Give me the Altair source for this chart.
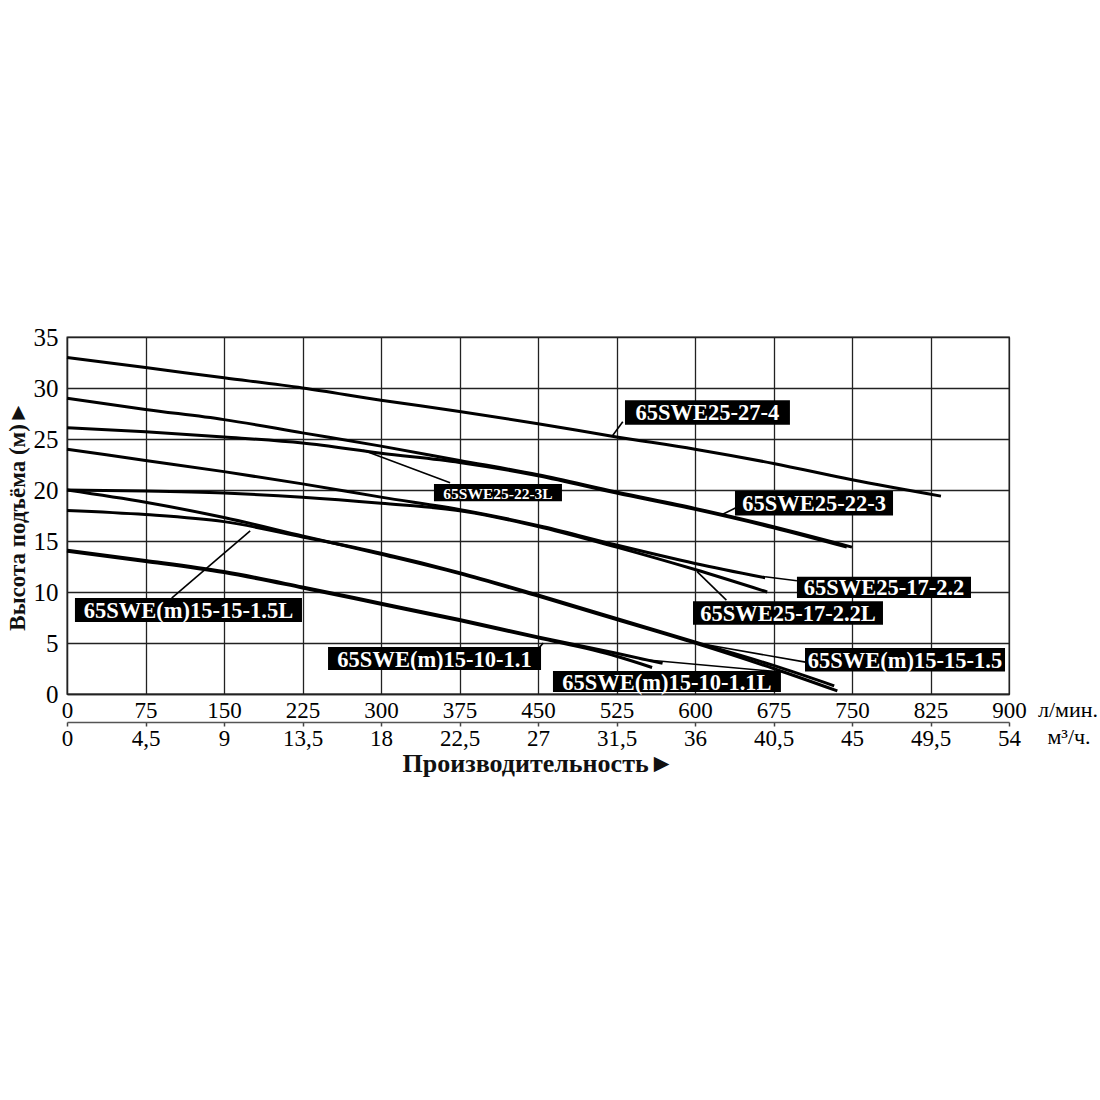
import altair as alt
import pandas as pd

# Pump performance curves: flow (l/min) vs head (m)
pump_names = [
    "65SWE25-27-4",
    "65SWE25-22-3",
    "65SWE25-22-3L",
    "65SWE25-17-2.2",
    "65SWE25-17-2.2L",
    "65SWE(m)15-15-1.5",
    "65SWE(m)15-15-1.5L",
    "65SWE(m)15-10-1.1",
    "65SWE(m)15-10-1.1L",
]

flow_27_4 = [0, 75, 150, 225, 300, 375, 450, 525, 600, 675, 750, 835]
head_27_4 = [33.0, 32.0, 31.0, 30.0, 28.8, 27.7, 26.5, 25.2, 24.0, 22.6, 21.0, 19.4]

flow_22_3 = [0, 75, 150, 225, 300, 375, 450, 525, 600, 675, 750]
head_22_3 = [29.0, 27.9, 26.9, 25.6, 24.3, 22.9, 21.5, 19.8, 18.2, 16.4, 14.4]

flow_22_3L = [0, 75, 150, 225, 300, 375, 450, 525, 600, 675, 745]
head_22_3L = [26.1, 25.7, 25.2, 24.6, 23.6, 22.7, 21.4, 19.7, 18.1, 16.3, 14.4]

flow_17_22 = [0, 75, 150, 225, 300, 380, 455, 525, 600, 667]
head_17_22 = [24.0, 22.9, 21.8, 20.6, 19.3, 18.0, 16.4, 14.6, 12.8, 11.4]

flow_17_22L = [0, 75, 150, 225, 300, 380, 455, 525, 600, 669]
head_17_22L = [20.0, 19.9, 19.7, 19.3, 18.7, 17.9, 16.3, 14.4, 12.2, 10.0]

flow_15_15 = [0, 75, 150, 225, 300, 375, 450, 525, 600, 675, 736]
head_15_15 = [20.0, 18.8, 17.3, 15.5, 13.7, 11.8, 9.6, 7.3, 5.0, 2.5, 0.3]

flow_15_15L = [0, 75, 150, 225, 300, 375, 450, 525, 600, 675, 733]
head_15_15L = [18.0, 17.6, 16.9, 15.4, 13.8, 11.9, 9.7, 7.4, 5.1, 2.8, 0.8]

flow_10_11 = [0, 75, 150, 225, 300, 375, 450, 525, 569]
head_10_11 = [14.1, 13.1, 12.0, 10.5, 8.9, 7.3, 5.6, 4.0, 3.0]

flow_10_11L = [0, 75, 150, 225, 300, 375, 450, 525, 559]
head_10_11L = [14.0, 13.0, 11.9, 10.4, 8.8, 7.2, 5.5, 3.7, 2.6]

series = [
    (pump_names[0], flow_27_4, head_27_4),
    (pump_names[1], flow_22_3, head_22_3),
    (pump_names[2], flow_22_3L, head_22_3L),
    (pump_names[3], flow_17_22, head_17_22),
    (pump_names[4], flow_17_22L, head_17_22L),
    (pump_names[5], flow_15_15, head_15_15),
    (pump_names[6], flow_15_15L, head_15_15L),
    (pump_names[7], flow_10_11, head_10_11),
    (pump_names[8], flow_10_11L, head_10_11L),
]

# Axis ticks
flow_ticks = [0, 75, 150, 225, 300, 375, 450, 525, 600, 675, 750, 825, 900]
m3h_labels = ["0", "4,5", "9", "13,5", "18", "22,5", "27", "31,5", "36",
              "40,5", "45", "49,5", "54"]
head_ticks = [0, 5, 10, 15, 20, 25, 30, 35]

# Label boxes (data units) and leader lines for each curve name
label_text = ["65SWE25-27-4", "65SWE25-22-3", "65SWE25-22-3L", "65SWE25-17-2.2",
              "65SWE25-17-2.2L", "65SWE(m)15-15-1.5", "65SWE(m)15-10-1.1L",
              "65SWE(m)15-10-1.1", "65SWE(m)15-15-1.5L"]
box_x0 = [533.1, 638.2, 350.6, 697.4, 598.1, 705.1, 464.3, 249.4, 7.6]
box_x1 = [690.7, 789.2, 472.9, 863.7, 779.6, 896.2, 682.1, 452.9, 224.5]
box_y0 = [26.4, 17.5, 18.9, 9.4, 6.8, 2.2, 0.2, 2.35, 7.06]
box_y1 = [28.8, 19.9, 20.6, 11.5, 9.1, 4.5, 2.25, 4.6, 9.4]
label_size = [22.5, 22.5, 15.5, 22.5, 22.5, 22.5, 22.5, 22.5, 22.5]

lead_x0 = [521.0, 626.0, 283.0, 667.0, 602.0, 607.0, 547.0, 455.0, 100.0]
lead_y0 = [25.3, 17.6, 23.9, 11.5, 12.0, 4.9, 3.4, 5.0, 9.4]
lead_x1 = [531.0, 640.0, 366.0, 697.4, 630.0, 707.0, 678.0, 450.0, 175.0]
lead_y1 = [26.7, 18.3, 20.7, 11.1, 9.2, 3.1, 2.2, 4.4, 16.0]

rows = []
for name, fx, hy in series:
    for f, h in zip(fx, hy):
        rows.append({"pump": name, "flow": f, "head": h})
curves = pd.DataFrame(rows)

labels = pd.DataFrame({
    "text": label_text, "x0": box_x0, "x1": box_x1, "y0": box_y0, "y1": box_y1,
    "fs": label_size,
})
labels["xc"] = (labels.x0 + labels.x1) / 2
labels["yc"] = (labels.y0 + labels.y1) / 2

leaders = pd.DataFrame({"x0": lead_x0, "y0": lead_y0, "x1": lead_x1, "y1": lead_y1})
ticks = pd.DataFrame({"flow": flow_ticks})

FONT = "Liberation Serif"
xscale = alt.Scale(domain=[0, 900], nice=False, zero=True)
yscale = alt.Scale(domain=[0, 35], nice=False)

axis_lpm = alt.Axis(
    values=flow_ticks, grid=True, gridColor="#222", gridWidth=1.3, gridOpacity=1,
    ticks=False, domain=True, domainColor="#222", domainWidth=1.3,
    labelFont=FONT, labelFontSize=23, labelColor="black", labelPadding=5,
    labelFlush=False, title=None, orient="bottom",
)
labels_expr = "[" + ",".join("'%s'" % s for s in m3h_labels) + "][round(datum.value / 75)]"
axis_m3h = alt.Axis(
    values=flow_ticks, grid=False, orient="bottom", offset=28,
    ticks=True, tickSize=4, tickColor="#444", tickWidth=1.5,
    domain=True, domainColor="#555", domainWidth=1.5,
    labelExpr=labels_expr, labelFont=FONT, labelFontSize=23, labelColor="black",
    labelPadding=1, labelFlush=False,
    title="Производительность►", titleFont=FONT, titleFontSize=26,
    titleFontWeight="bold", titleColor="#111", titlePadding=0,
)
axis_head = alt.Axis(
    values=head_ticks, grid=True, gridColor="#222", gridWidth=1.3, gridOpacity=1,
    ticks=False, domain=True, domainColor="#222", domainWidth=1.3,
    labelFont=FONT, labelFontSize=25, labelColor="black", labelPadding=9,
    title="Высота подъёма (м)►", titleFont=FONT, titleFontSize=23,
    titleFontWeight="bold", titleColor="#111", titlePadding=4,
)

lines = alt.Chart(curves).mark_line(
    interpolate="monotone", color="black", strokeWidth=3
).encode(
    x=alt.X("flow:Q", scale=xscale, axis=axis_lpm),
    y=alt.Y("head:Q", scale=yscale, axis=axis_head),
    detail="pump:N",
)

second_axis = alt.Chart(ticks).mark_point(opacity=0).encode(
    x=alt.X("flow:Q", scale=xscale, axis=axis_m3h),
    y=alt.YDatum(0, scale=yscale, axis=None),
)

leader_lines = alt.Chart(leaders).mark_rule(color="black", strokeWidth=1.6).encode(
    x=alt.X("x0:Q", scale=xscale, axis=None),
    y=alt.Y("y0:Q", scale=yscale, axis=None),
    x2="x1:Q", y2="y1:Q",
)

boxes = alt.Chart(labels).mark_rect(color="black").encode(
    x=alt.X("x0:Q", scale=xscale, axis=None),
    x2="x1:Q",
    y=alt.Y("y0:Q", scale=yscale, axis=None),
    y2="y1:Q",
)

box_text = alt.Chart(labels).mark_text(
    color="white", font=FONT, fontWeight="bold", baseline="middle", align="center", dy=1
).encode(
    x=alt.X("xc:Q", scale=xscale, axis=None),
    y=alt.Y("yc:Q", scale=yscale, axis=None),
    text="text:N",
    size=alt.Size("fs:Q", scale=None, legend=None),
)

unit_lpm = alt.Chart(ticks.head(1)).mark_text(
    text="л/мин.", font=FONT, fontSize=22, color="black", dx=59, dy=16
).encode(
    x=alt.XDatum(900, scale=xscale, axis=None),
    y=alt.YDatum(0, scale=yscale, axis=None),
)

unit_m3h = alt.Chart(ticks.head(1)).mark_text(
    text="м³/ч.", font=FONT, fontSize=22, color="black", dx=60, dy=43
).encode(
    x=alt.XDatum(900, scale=xscale, axis=None),
    y=alt.YDatum(0, scale=yscale, axis=None),
)

chart = alt.layer(
    lines, second_axis, leader_lines, boxes, box_text, unit_lpm, unit_m3h
).resolve_axis(x="independent", y="independent").properties(
    width=942, height=357,
    autosize=alt.AutoSizeParams(type="none"),
    padding={"left": 67, "top": 337, "right": 91, "bottom": 406},
    background="white",
).configure_view(stroke="#222", strokeWidth=1.3)

chart.save("out.html", embed_options={"renderer": "svg", "actions": False})
